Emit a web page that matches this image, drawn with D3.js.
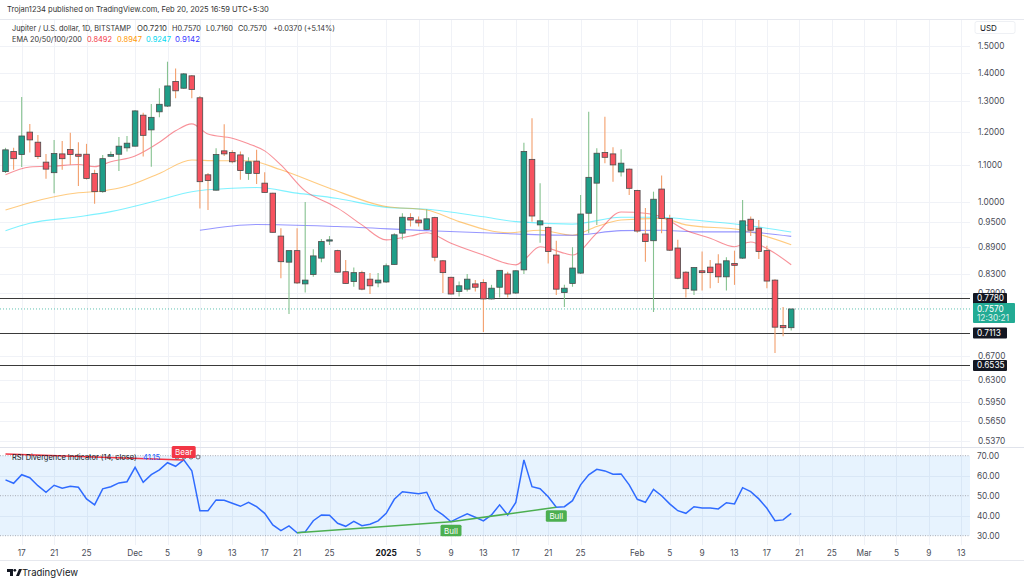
<!DOCTYPE html>
<html><head><meta charset="utf-8">
<script src="https://cdn.jsdelivr.net/npm/d3@7"></script>
<style>body{margin:0;background:#fff;} svg{display:block;font-family:Inter,"Noto Sans",sans-serif;}</style>
</head><body><svg id="c" width="1024" height="584"></svg>
<script>
// ---------- DATA ----------
const startDate = "2024-11-15"; // first daily candle, one candle per day
const openP  = [1.082,1.140,1.131,1.199,1.168,1.109,1.079,1.133,1.146,1.132,1.132,1.077,1.027,1.126,1.132,1.151,
  1.156,1.253,1.206,1.264,1.283,1.368,1.344,1.388,1.311,1.073,1.031,1.142,1.137,1.130,1.077,1.112,1.050,1.023,0.915,0.855,0.881,0.808,0.828,0.864,0.904,0.881,0.834,0.813,0.832,0.818,0.810,
  0.812,0.850,0.922,0.960,0.954,0.931,0.960,0.858,0.822,0.792,0.797,0.808,0.811,0.777,0.801,0.829,0.789,0.838,1.117,0.942,0.936,0.871,0.790,0.809,0.831,0.971,1.050,1.137,1.133,1.081,1.089,
  1.030,0.920,0.904,1.034,0.958,0.887,0.833,0.795,0.836,0.844,0.851,0.823,0.852,0.864,0.956,0.934,0.881,0.816,0.725,0.721];
const highP  = [1.151,1.151,1.314,1.225,1.190,1.133,1.175,1.172,1.197,1.168,1.163,1.087,1.130,1.140,1.184,1.187,
  1.270,1.261,1.290,1.344,1.440,1.415,1.398,1.391,1.317,1.078,1.150,1.224,1.144,1.140,1.123,1.145,1.080,1.024,0.934,0.881,0.934,1.000,0.884,0.908,0.915,0.883,0.860,0.843,0.836,0.831,0.831,
  0.852,0.922,0.971,0.971,0.963,0.981,0.962,0.860,0.823,0.813,0.829,0.816,0.818,0.806,0.838,0.834,0.837,1.166,1.243,1.050,0.938,0.904,0.806,0.889,1.018,1.264,1.150,1.248,1.153,1.147,1.091,
  1.032,0.984,1.027,1.071,0.967,0.906,0.835,0.843,0.879,0.860,0.873,0.866,0.881,1.005,0.963,0.954,0.892,0.818,0.761,0.757];
const lowP   = [1.078,1.087,1.095,1.137,1.118,1.062,1.023,1.087,1.101,1.042,1.060,0.995,1.024,1.125,1.084,1.140,
  1.155,1.125,1.096,1.246,1.280,1.309,1.342,1.309,0.983,0.979,1.030,1.127,1.106,1.059,1.059,1.048,1.024,0.923,0.820,0.747,0.808,0.790,0.823,0.855,0.894,0.832,0.808,0.802,0.795,0.787,0.801,
  0.810,0.849,0.907,0.938,0.938,0.930,0.857,0.789,0.786,0.782,0.792,0.792,0.713,0.776,0.780,0.780,0.787,0.829,0.950,0.899,0.852,0.785,0.761,0.802,0.829,0.922,0.942,1.106,1.054,1.068,1.018,
  0.923,0.856,0.751,0.922,0.880,0.818,0.780,0.785,0.794,0.799,0.810,0.794,0.806,0.862,0.915,0.862,0.799,0.675,0.705,0.716];
const closeP = [1.145,1.119,1.187,1.175,1.125,1.089,1.134,1.119,1.131,1.126,1.063,1.027,1.119,1.131,1.156,1.165,
  1.267,1.189,1.246,1.289,1.352,1.335,1.395,1.340,1.054,1.057,1.131,1.133,1.110,1.085,1.110,1.077,1.025,0.924,0.856,0.881,0.810,0.816,0.869,0.902,0.906,0.833,0.809,0.832,0.797,0.804,0.816,
  0.847,0.918,0.961,0.954,0.947,0.957,0.866,0.832,0.787,0.804,0.818,0.801,0.777,0.799,0.837,0.787,0.836,1.140,0.964,0.952,0.879,0.797,0.799,0.842,0.969,1.066,1.135,1.123,1.101,1.106,1.036,
  0.927,0.902,1.007,0.958,0.882,0.820,0.798,0.843,0.832,0.832,0.823,0.858,0.848,0.952,0.929,0.879,0.814,0.722,0.721,0.757];
const rsiValues = [57.9,56.2,60.5,59.0,55.0,51.7,55.2,53.7,54.7,54.2,48.4,45.4,53.4,54.5,56.4,57.0,
  64.2,56.7,60.5,62.9,66.5,64.7,67.9,62.5,42.5,42.5,47.9,47.7,46.2,44.7,46.7,44.5,41.2,35.4,32.5,34.9,31.5,31.9,37.5,40.4,40.2,36.2,34.7,37.2,35.0,35.7,37.4,
  41.2,48.2,52.0,51.5,51.0,51.7,43.2,40.4,37.0,39.0,40.9,39.2,37.4,40.4,45.4,40.4,46.6,67.9,54.5,53.5,49.5,44.2,44.5,47.5,55.4,60.4,63.2,62.4,60.7,60.9,55.4,
  48.2,46.7,53.2,50.0,45.9,42.5,41.2,44.5,43.9,43.9,43.4,46.5,45.9,54.0,52.0,48.4,43.7,37.5,37.9,41.15];
const ema20 = [["2024-11-15",1.073],["2024-11-18",1.095],["2024-11-21",1.098],["2024-11-24",1.102],["2024-11-26",1.096],["2024-11-28",1.110],
  ["2024-12-01",1.127],["2024-12-04",1.168],["2024-12-06",1.203],["2024-12-08",1.225],["2024-12-10",1.193],["2024-12-13",1.180],["2024-12-15",1.163],
  ["2024-12-17",1.142],["2024-12-19",1.101],["2024-12-22",1.029],["2024-12-25",0.995],["2024-12-26",0.984],["2024-12-29",0.942],["2025-01-01",0.906],
  ["2025-01-04",0.915],["2025-01-06",0.923],["2025-01-09",0.898],["2025-01-13",0.871],["2025-01-17",0.849],["2025-01-18",0.860],["2025-01-20",0.890],
  ["2025-01-23",0.875],["2025-01-24",0.871],["2025-01-27",0.922],["2025-01-30",0.974],["2025-02-02",0.971],["2025-02-04",0.962],["2025-02-07",0.929],
  ["2025-02-10",0.910],["2025-02-13",0.890],["2025-02-15",0.901],["2025-02-17",0.886],["2025-02-20",0.8492]];
const ema50 = [["2024-11-15",0.979],["2024-11-18",0.998],["2024-11-24",1.024],["2024-11-27",1.029],["2024-11-30",1.042],["2024-12-04",1.077],
  ["2024-12-08",1.115],["2024-12-11",1.113],["2024-12-15",1.113],["2024-12-19",1.087],["2024-12-25",1.036],["2025-01-01",0.988],["2025-01-06",0.979],
  ["2025-01-10",0.950],["2025-01-16",0.923],["2025-01-20",0.929],["2025-01-24",0.917],["2025-01-27",0.938],["2025-01-30",0.954],["2025-02-04",0.958],
  ["2025-02-07",0.942],["2025-02-14",0.929],["2025-02-20",0.8947]];
const ema100 = [["2024-11-15",0.928],["2024-11-18",0.946],["2024-11-24",0.962],["2024-11-28",0.975],["2024-12-04",1.005],["2024-12-08",1.027],
  ["2024-12-13",1.036],["2024-12-16",1.038],["2024-12-21",1.023],["2024-12-26",1.009],["2025-01-01",0.986],["2025-01-06",0.981],["2025-01-13",0.962],
  ["2025-01-17",0.950],["2025-01-24",0.944],["2025-01-30",0.961],["2025-02-04",0.961],["2025-02-08",0.954],["2025-02-14",0.942],["2025-02-20",0.9247]];
const ema200 = [["2024-12-09",0.929],["2024-12-16",0.943],["2024-12-26",0.938],["2025-01-06",0.928],["2025-01-17",0.920],["2025-01-24",0.917],
  ["2025-01-30",0.928],["2025-02-04",0.929],["2025-02-08",0.925],["2025-02-14",0.925],["2025-02-20",0.9142]];
const priceTicks = [1.5,1.4,1.3,1.2,1.1,1.0,0.95,0.89,0.83,0.79,0.67,0.63,0.595,0.565,0.537];
const rsiTicks = [70,60,50,40,30];
const timeTicks = [["2024-11-17","17"],["2024-11-21","21"],["2024-11-25","25"],["2024-12-01","Dec"],["2024-12-05","5"],["2024-12-09","9"],
  ["2024-12-13","13"],["2024-12-17","17"],["2024-12-21","21"],["2024-12-25","25"],["2025-01-01","2025"],["2025-01-05","5"],["2025-01-09","9"],
  ["2025-01-13","13"],["2025-01-17","17"],["2025-01-21","21"],["2025-01-25","25"],["2025-02-01","Feb"],["2025-02-05","5"],["2025-02-09","9"],
  ["2025-02-13","13"],["2025-02-17","17"],["2025-02-21","21"],["2025-02-25","25"],["2025-03-01","Mar"],["2025-03-05","5"],["2025-03-09","9"],["2025-03-13","13"]];
const levelLines = [0.7780, 0.7113, 0.6535];
const lastPrice = 0.7570;
const countdown = "12:30:21";
const bullDivergences = [[["2024-12-21",31.5],["2025-01-09",37.0]],[["2025-01-09",37.0],["2025-01-22",44.2]]];
const bearDivergence = [["2024-11-15",70.9],["2024-12-07",67.9]];
const bullLabels = [["2025-01-09",37.0],["2025-01-22",44.2]];
const bearLabel = ["2024-12-07",67.9];

// ---------- LAYOUT ----------
const W=1024, H=584, plotR=970;
const mainTop=20, mainBot=447, rsiTop=448, rsiBot=545;
const parse=d3.utcParse("%Y-%m-%d");
const t0=parse(startDate);
const x=d3.scaleUtc().domain([parse("2024-11-17"),parse("2025-03-13")]).range([21.7,961.3]);
const y=d3.scaleLog().domain([1.5,0.537]).range([46,441]);
const yr=d3.scaleLinear().domain([70,30]).range([455.7,535.7]);
const svg=d3.select("#c");
svg.append("rect").attr("width",W).attr("height",H).attr("fill","#fff");
const defs=svg.append("defs");
defs.append("clipPath").attr("id","cm").append("rect").attr("x",0).attr("y",mainTop).attr("width",plotR).attr("height",mainBot-mainTop);
defs.append("clipPath").attr("id","cr").append("rect").attr("x",0).attr("y",rsiTop).attr("width",plotR).attr("height",rsiBot-rsiTop);

const candles=openP.map((o,i)=>({d:d3.utcDay.offset(t0,i),o,h:highP[i],l:lowP[i],c:closeP[i]}));

// grid
const grid=svg.append("g").attr("stroke","#f0f2f7").attr("stroke-width",1);
timeTicks.forEach(t=>{const xx=Math.round(x(parse(t[0])))+0.5;
  grid.append("line").attr("x1",xx).attr("x2",xx).attr("y1",mainTop).attr("y2",rsiBot);});
priceTicks.forEach(p=>{const yy=Math.round(y(p))+0.5;
  grid.append("line").attr("x1",0).attr("x2",plotR).attr("y1",yy).attr("y2",yy);});
[60,40].forEach(v=>{const yy=Math.round(yr(v))+0.5;
  grid.append("line").attr("x1",0).attr("x2",plotR).attr("y1",yy).attr("y2",yy);});

// borders
svg.append("line").attr("x1",0).attr("x2",W).attr("y1",19.5).attr("y2",19.5).attr("stroke","#e6e8ee");
svg.append("line").attr("x1",0).attr("x2",W).attr("y1",447.5).attr("y2",447.5).attr("stroke","#e0e3eb");
svg.append("line").attr("x1",0).attr("x2",W).attr("y1",560.5).attr("y2",560.5).attr("stroke","#e6e8ee");

// ---------- MAIN PANE ----------
const gm=svg.append("g").attr("clip-path","url(#cm)");
const line=d3.line().x(d=>x(parse(d[0]))).y(d=>y(d[1])).curve(d3.curveMonotoneX);
[[ema100,"rgba(0,229,255,0.5)"],[ema50,"rgba(255,152,0,0.5)"],[ema200,"rgba(63,63,255,0.55)"],[ema20,"rgba(242,54,69,0.55)"]].forEach(([d,c])=>{
  gm.append("path").attr("d",line(d)).attr("fill","none").attr("stroke",c).attr("stroke-width",1.1);});

// level lines
levelLines.forEach(p=>{const yy=Math.round(y(p))+0.5;
  gm.append("line").attr("x1",0).attr("x2",plotR).attr("y1",yy).attr("y2",yy).attr("stroke","#3a3a3a").attr("stroke-width",1.2);});
// last price dotted
gm.append("line").attr("x1",0).attr("x2",plotR).attr("y1",y(lastPrice)).attr("y2",y(lastPrice))
  .attr("stroke","#22ab94").attr("stroke-width",1).attr("stroke-dasharray","1,2").attr("opacity",0.7);

const bw=5.6;
const cg=gm.append("g");
candles.forEach(k=>{
  const up=k.c>=k.o, cx=x(k.d);
  cg.append("line").attr("x1",cx).attr("x2",cx).attr("y1",y(k.h)).attr("y2",y(k.l))
    .attr("stroke",up?"#86c290":"#f39f6c").attr("stroke-width",1.1);
  const top=y(Math.max(k.o,k.c)), bot=y(Math.min(k.o,k.c));
  cg.append("rect").attr("x",cx-bw/2).attr("y",top).attr("width",bw).attr("height",Math.max(1.2,bot-top))
    .attr("fill",up?"#1f9e88":"#f7525f").attr("stroke","#4b4b4b").attr("stroke-width",0.8);
});

// ---------- RSI PANE ----------
const gr=svg.append("g").attr("clip-path","url(#cr)");
gr.append("rect").attr("x",0).attr("width",plotR).attr("y",yr(70)).attr("height",yr(30)-yr(70)).attr("fill","rgba(33,150,243,0.11)");
[70,50,30].forEach(v=>{gr.append("line").attr("x1",0).attr("x2",plotR).attr("y1",yr(v)).attr("y2",yr(v))
  .attr("stroke","#9598a1").attr("stroke-width",0.8).attr("stroke-dasharray","1,1.5");});
const rline=d3.line().x((v,i)=>x(d3.utcDay.offset(t0,i))).y(v=>yr(v));
gr.append("path").attr("d",rline(rsiValues)).attr("fill","none").attr("stroke","#2f6bff").attr("stroke-width",1.5);
const dl=d3.line().x(d=>x(parse(d[0]))).y(d=>yr(d[1]));
bullDivergences.forEach(seg=>gr.append("path").attr("d",dl(seg)).attr("fill","none").attr("stroke","#4caf50").attr("stroke-width",1.5));
gr.append("path").attr("d",dl(bearDivergence)).attr("fill","none").attr("stroke","#f23645").attr("stroke-width",1.5);

// helper: place text and fit it to a target width
function fitText(g,str,xx,yy,size,color,target){
  const t=g.append("text").attr("x",xx).attr("y",yy).attr("font-size",size).attr("fill",color).text(str);
  if(target){const w=t.node().getComputedTextLength(); if(w>target) t.attr("font-size",size*target/w);}
  return t;
}

// legend RSI
fitText(svg,"RSI Divergence Indicator (14, close)",12,459.5,8,"#131722",125);
fitText(svg,rsiValues[rsiValues.length-1].toFixed(2),143,459.5,8,"#2962ff",17);
[177,184,191,198].forEach(xx=>svg.append("circle").attr("cx",xx).attr("cy",457).attr("r",2).attr("fill","none").attr("stroke","#555").attr("stroke-width",0.8));

// labels bull/bear
bullLabels.forEach(b=>{const cx=x(parse(b[0])), yy=yr(b[1]);
  svg.append("rect").attr("x",cx-10.5).attr("y",yy+3).attr("width",21).attr("height",11.5).attr("rx",1.5).attr("fill","#4caf50");
  svg.append("text").attr("x",cx).attr("y",yy+11.8).attr("text-anchor","middle").attr("font-size",8).attr("fill","#fff").text("Bull");});
{const cx=x(parse(bearLabel[0]));
  svg.append("rect").attr("x",cx-12).attr("y",446).attr("width",24).attr("height",12).attr("rx",1.5).attr("fill","#f23645");
  svg.append("text").attr("x",cx).attr("y",455).attr("text-anchor","middle").attr("font-size",8).attr("fill","#fff").text("Bear");}

// ---------- AXES ----------
const ax=svg.append("g").attr("font-size",8.3).attr("fill","#4a4d57");
priceTicks.forEach(p=>ax.append("text").attr("x",978).attr("y",y(p)+3).text(p.toFixed(4)));
rsiTicks.forEach(v=>ax.append("text").attr("x",977).attr("y",yr(v)+3).text(v.toFixed(2)));
timeTicks.forEach(t=>ax.append("text").attr("x",x(parse(t[0]))).attr("y",556).attr("text-anchor","middle")
  .attr("font-weight",t[1]==="2025"?"bold":null).attr("fill",t[1]==="2025"?"#131722":"#4a4d57").text(t[1]));
svg.append("rect").attr("x",975).attr("y",21.5).attr("width",40).attr("height",12).attr("rx",2).attr("fill","#fff").attr("stroke","#eef0f4");
svg.append("text").attr("x",980).attr("y",30.5).attr("font-size",8).attr("fill","#131722").text("USD");

// price labels
levelLines.forEach(p=>{const yy=y(p);
  svg.append("rect").attr("x",973).attr("y",yy-5.5).attr("width",34).attr("height",11).attr("rx",1).attr("fill","#131722");
  svg.append("text").attr("x",977).attr("y",yy+3).attr("font-size",8.3).attr("fill","#fff").text(p.toFixed(4));});
{const yy=y(lastPrice);
  svg.append("rect").attr("x",973).attr("y",yy-6).attr("width",42).attr("height",20).attr("rx",1).attr("fill","#22ab94");
  svg.append("text").attr("x",977).attr("y",yy+3).attr("font-size",8.3).attr("fill","#fff").text(lastPrice.toFixed(4));
  svg.append("text").attr("x",977).attr("y",yy+12.5).attr("font-size",8.3).attr("fill","#fff").attr("opacity",0.85).text(countdown);}

// ---------- HEADER ----------
fitText(svg,"Trojan1234 published on TradingView.com, Feb 20, 2025 16:59 UTC+5:30",7,12,8.5,"#333",262);
const last=candles[candles.length-1];
const hdr=[["Jupiter / U.S. dollar, 1D, BITSTAMP",12,119],["O"+last.o.toFixed(4),137,30],["H"+last.h.toFixed(4),172,29],["L"+last.l.toFixed(4),206,27],
  ["C"+last.c.toFixed(4),238,29],["+0.0370 (+5.14%)",273,62]];
hdr.forEach(h=>fitText(svg,h[0],h[1],31,8,"#333",h[2]));
fitText(svg,"EMA 20/50/100/200",12,42,8,"#333",70);
[[ema20,"#f23645",87],[ema50,"#ff9800",117],[ema100,"#00d8ef",146],[ema200,"#3b3bff",175]].forEach(([d,c,xx])=>
  fitText(svg,d[d.length-1][1].toFixed(4),xx,42,8,c,25));

// logo
const lg=svg.append("g").attr("fill","#131722");
lg.append("path").attr("d","M7,569 h6 v7 h-3 v-4 h-3z");
lg.append("circle").attr("cx",14.8).attr("cy",570.3).attr("r",1.4);
lg.append("path").attr("d","M16,576 l3,-7 h3 l-3,7z");
svg.append("text").attr("x",22).attr("y",576).attr("font-size",9.5).attr("fill","#131722").text("TradingView");
</script></body></html>
